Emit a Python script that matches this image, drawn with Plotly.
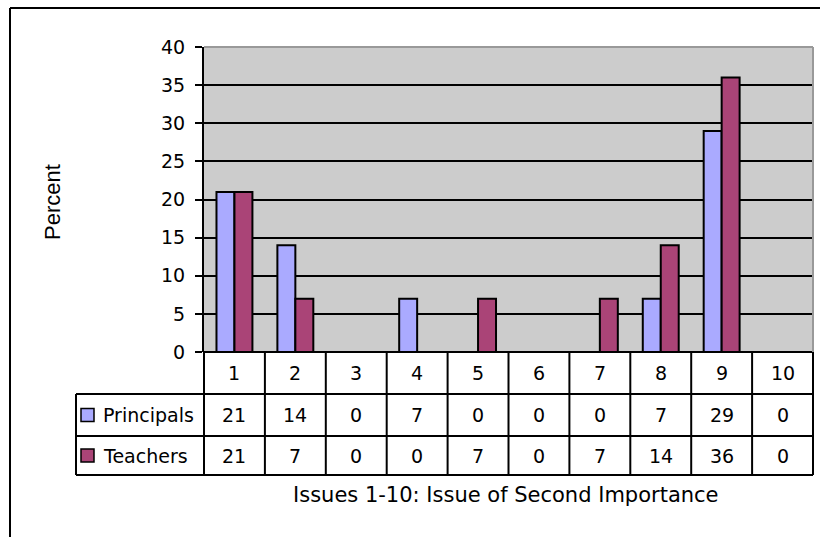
import plotly.graph_objects as go

# Survey results: share of respondents naming each issue as second in importance
issues = ["1", "2", "3", "4", "5", "6", "7", "8", "9", "10"]
principals = [21, 14, 0, 7, 0, 0, 0, 7, 29, 0]
teachers = [21, 7, 0, 0, 7, 0, 7, 14, 36, 0]
series_names = ["Principals", "Teachers"]
series_colors = ["#aaaaff", "#aa4477"]
y_ticks = [0, 5, 10, 15, 20, 25, 30, 35, 40]

W, H = 820, 537
L, R, T, B = 204, 7, 47, 185          # plot-area margins in pixels
PW, PH = W - L - R, H - T - B
FONT = "DejaVu Sans"


def px(xp):
    """Horizontal pixel -> paper coordinate."""
    return (xp - L) / PW


def py(yp):
    """Vertical pixel (from top) -> paper coordinate."""
    return (H - B - yp) / PH


fig = go.Figure()
for name, vals, col in zip(series_names, [principals, teachers], series_colors):
    fig.add_trace(go.Bar(
        x=list(range(1, len(issues) + 1)), y=vals, name=name,
        marker=dict(color=col, line=dict(color="black", width=2)),
        showlegend=False,
    ))

shapes = []
annotations = []

# data table under the plot: header row of issue numbers plus one row per series
n = len(issues)
row_edges = [py(352), py(394), py(436), py(475)]
col_edges = [k / n for k in range(n + 1)]
legend_left = px(76)
black = dict(color="black", width=2)

# horizontal rules
shapes.append(dict(type="line", xref="paper", yref="paper", x0=0, x1=1,
                   y0=row_edges[0], y1=row_edges[0], line=black))
for yv in row_edges[1:]:
    shapes.append(dict(type="line", xref="paper", yref="paper", x0=legend_left, x1=1,
                       y0=yv, y1=yv, line=black))
# vertical rules
for k, xv in enumerate(col_edges):
    shapes.append(dict(type="line", xref="paper", yref="paper", x0=xv, x1=xv,
                       y0=row_edges[0], y1=row_edges[3], line=black))
shapes.append(dict(type="line", xref="paper", yref="paper", x0=legend_left, x1=legend_left,
                   y0=row_edges[1], y1=row_edges[3], line=black))

tfont = dict(family=FONT, size=19, color="black")
for k, lab in enumerate(issues):
    xc = (col_edges[k] + col_edges[k + 1]) / 2
    annotations.append(dict(xref="paper", yref="paper", x=xc, y=(row_edges[0] + row_edges[1]) / 2,
                            xanchor="center", yanchor="middle",
                            text=lab, showarrow=False, font=tfont))
    for r, vals in enumerate([principals, teachers]):
        annotations.append(dict(xref="paper", yref="paper", x=xc,
                                y=(row_edges[r + 1] + row_edges[r + 2]) / 2,
                                xanchor="center", yanchor="middle",
                                text=str(vals[k]), showarrow=False, font=tfont))

# series names with colour keys in the first table column
for r, (name, col) in enumerate(zip(series_names, series_colors)):
    yc = (row_edges[r + 1] + row_edges[r + 2]) / 2
    shapes.append(dict(type="rect", xref="paper", yref="paper",
                       x0=px(81), x1=px(94), y0=yc - 6.5 / PH, y1=yc + 6.5 / PH,
                       fillcolor=col, line=dict(color="black", width=1.5)))
    annotations.append(dict(xref="paper", yref="paper", x=px(101), y=yc,
                            xanchor="left", yanchor="middle",
                            text=name, showarrow=False, font=tfont))

# axis titles
annotations.append(dict(xref="paper", yref="paper", x=px(506), y=py(495),
                        xanchor="center", yanchor="middle",
                        text="Issues 1-10: Issue of Second Importance", showarrow=False,
                        font=dict(family=FONT, size=21, color="black")))
annotations.append(dict(xref="paper", yref="paper", x=px(52), y=py(202),
                        xanchor="center", yanchor="middle",
                        text="Percent", textangle=-90, showarrow=False,
                        font=dict(family="Liberation Sans", size=22, color="black")))

# plot-area border (top and right) in grey
shapes.append(dict(type="line", xref="paper", yref="paper", x0=0, x1=1, y0=1, y1=1,
                   line=dict(color="#999999", width=2)))
shapes.append(dict(type="line", xref="paper", yref="paper", x0=1, x1=1, y0=0, y1=1,
                   line=dict(color="#999999", width=2)))

# outer chart frame
shapes.append(dict(type="line", xref="paper", yref="paper", x0=px(10), x1=px(10),
                   y0=py(540), y1=py(8), line=black))
shapes.append(dict(type="line", xref="paper", yref="paper", x0=px(10), x1=px(822),
                   y0=py(8), y1=py(8), line=black))

fig.update_layout(
    width=W, height=H, autosize=False,
    margin=dict(l=L, r=R, t=T, b=B, pad=0),
    paper_bgcolor="white", plot_bgcolor="#cccccc",
    barmode="group", bargap=0.41, bargroupgap=0,
    xaxis=dict(range=[0.5, n + 0.5], showticklabels=False, ticks="", showgrid=False,
               zeroline=False, showline=False),
    yaxis=dict(range=[0, 40], tickvals=y_ticks, ticks="outside", ticklen=7, tickwidth=2,
               tickcolor="black", showline=True, linecolor="black", linewidth=2,
               showgrid=True, gridcolor="black", gridwidth=2, zeroline=False,
               tickfont=dict(family=FONT, size=19, color="black"), ticklabelstandoff=6),
    shapes=shapes, annotations=annotations,
)

fig.write_html("out.html")
